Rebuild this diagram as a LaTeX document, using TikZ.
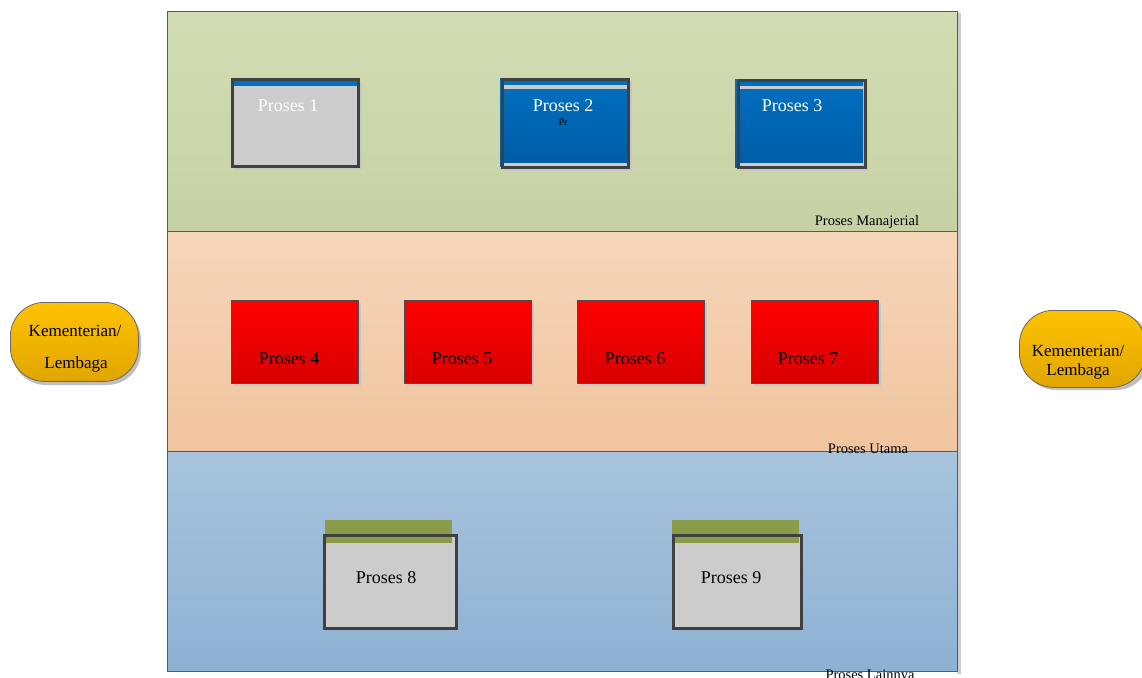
\documentclass[tikz,border=0pt]{standalone}
\usepackage{fontspec}
\setmainfont{Liberation Serif}
\begin{document}
\begin{tikzpicture}[x=1pt,y=-1pt,
  lane/.style={draw=black!65,line width=0.8pt,anchor=north west,inner sep=0pt,minimum width=790pt,minimum height=220pt},
  graybox/.style={fill=black!20,anchor=north west,inner sep=0pt},
  bluebox/.style={anchor=north west,inner sep=0pt},
  redbox/.style={top color=red,bottom color=red!85!black,draw=black!70,line width=0.8pt,anchor=north west,inner sep=0pt,minimum width=127pt,minimum height=83pt},
  frame/.style={draw=black!75,line width=3pt},
  shadowc/.style={fill=black!22},
  bigtxt/.style={font=\fontsize{18}{20}\selectfont,inner sep=0pt},
  lanetxt/.style={font=\fontsize{14.5}{16}\selectfont,inner sep=0pt},
  kltxt/.style={font=\fontsize{17}{19}\selectfont,inner sep=0pt},
  klbox/.style={top color=klt,bottom color=klb,draw=black!60,line width=0.8pt,rounded corners=34pt,anchor=north west,inner sep=0pt}
]
\definecolor{pbluetop}{HTML}{0070C0}
\definecolor{pbluebot}{HTML}{005CA6}
\definecolor{pgreen}{HTML}{8A9C4A}
\definecolor{gt}{HTML}{D3DCB4}
\definecolor{gb}{HTML}{C6D2A4}
\definecolor{ot}{HTML}{F6D6BA}
\definecolor{ob}{HTML}{F0C49E}
\definecolor{bt}{HTML}{A8C4DD}
\definecolor{bb}{HTML}{8EB1D3}
\definecolor{klt}{HTML}{FFC200}
\definecolor{klb}{HTML}{E0A600}
\useasboundingbox (0,0) rectangle (1142,677);
\fill[white] (0,0) rectangle (1142,677);
% lane shadow
\fill[black!20] (957,13) rectangle (961,674);
% lanes
\node[lane,top color=gt,bottom color=gb] (lane1) at (167,11) {};
\node[lane,top color=ot,bottom color=ob] (lane2) at (167,231) {};
\node[lane,top color=bt,bottom color=bb] (lane3) at (167,451) {};
\node[lanetxt,anchor=base] (l1t) at (867,225) {Proses Manajerial};
\node[lanetxt,anchor=base] (l2t) at (868,453) {Proses Utama};
\node[lanetxt,anchor=base] (l3t) at (870,679) {Proses Lainnya};
% Proses 1
\fill[shadowc] (234,81) rectangle (362,170);
\node[graybox,minimum width=126pt,minimum height=87pt] (p1) at (232,79) {};
\fill[pbluetop] (233,80) rectangle (357,86);
\draw[frame] (p1.north west) rectangle (p1.south east);
\node[bigtxt,text=white] (p1t) at (288,106) {Proses 1};
% Proses 2
\fill[shadowc] (504,81) rectangle (632,171);
\node[bluebox,minimum width=128pt,minimum height=88pt,top color=pbluetop,bottom color=pbluebot] (p2) at (500,78) {};
\fill[black!20] (503,85) rectangle (628,89);
\fill[black!20] (503,163) rectangle (628,166);
\draw[frame] (502,79) rectangle (628,167);
\node[bigtxt,text=white] (p2t) at (563,106) {Proses 2};
\node[font=\fontsize{10}{11}\selectfont,inner sep=0pt] (p2s) at (563,122) {Pr};
% Proses 3
\fill[shadowc] (739,81) rectangle (868,171);
\node[bluebox,minimum width=128pt,minimum height=88pt,top color=pbluetop,bottom color=pbluebot] (p3) at (735,79) {};
\fill[black!20] (738,86) rectangle (864,89);
\fill[black!20] (738,163) rectangle (864,166);
\draw[frame] (738,80) rectangle (865,167);
\node[bigtxt,text=white] (p3t) at (792,106) {Proses 3};
% Proses 4-7
\foreach \x/\n/\tx in {231/4/289,404/5/462,577/6/635,751/7/808}{
  \fill[shadowc] (\x+3,303) rectangle (\x+130,386);
  \node[redbox] (p\n) at (\x,300) {};
  \node[bigtxt] (p\n t) at (\tx,359) {Proses \n};
}
% Proses 8
\fill[pgreen] (325,520) rectangle (452,543);
\node[graybox,minimum width=132pt,minimum height=93pt] (p8) at (324,535) {};
\fill[pgreen] (325,536) rectangle (452,543);
\draw[frame] (p8.north west) rectangle (p8.south east);
\node[bigtxt] (p8t) at (386,578) {Proses 8};
% Proses 9
\fill[pgreen] (672,520) rectangle (799,543);
\node[graybox,minimum width=128pt,minimum height=93pt] (p9) at (673,535) {};
\fill[pgreen] (674,536) rectangle (799,543);
\draw[frame] (p9.north west) rectangle (p9.south east);
\node[bigtxt] (p9t) at (731,578) {Proses 9};
% Kementerian / Lembaga
\fill[black!25,rounded corners=34pt] (12,306) rectangle (141,385);
\node[klbox,minimum width=128pt,minimum height=79pt] (kl1) at (10,302) {};
\node[kltxt] (kl1a) at (75,331) {Kementerian/};
\node[kltxt] (kl1b) at (76,364) {Lembaga};
\fill[black!25,rounded corners=34pt] (1022,313) rectangle (1150,390);
\node[klbox,minimum width=126pt,minimum height=77pt] (kl2) at (1019,310) {};
\node[kltxt] (kl2a) at (1078,351) {Kementerian/};
\node[kltxt] (kl2b) at (1078,371) {Lembaga};
\end{tikzpicture}
\end{document}
